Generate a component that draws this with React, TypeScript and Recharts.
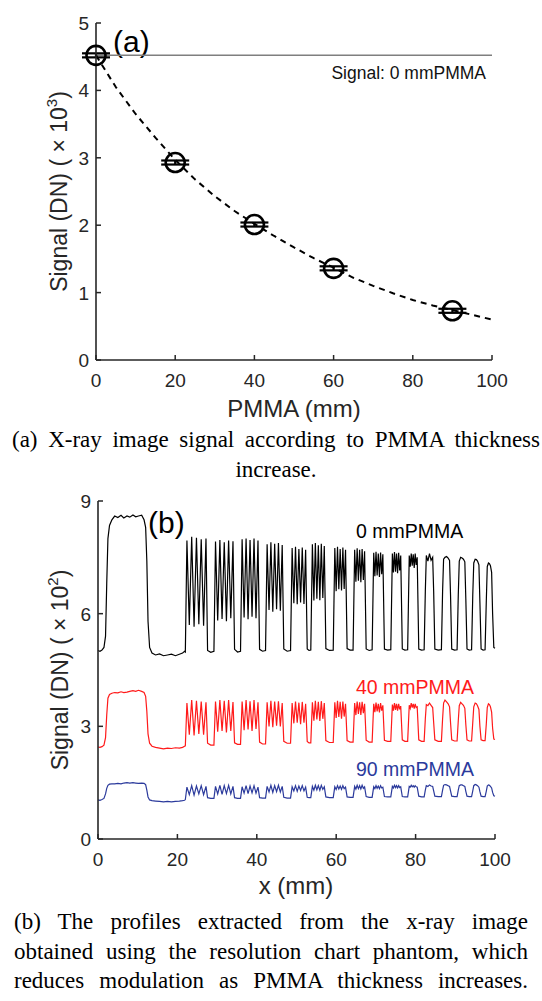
import React from 'react';
import { ComposedChart, LineChart, Line, XAxis, YAxis, ErrorBar, ReferenceLine } from 'recharts';

// ---------- (a) signal vs PMMA thickness ----------
const pmmaThickness = [0, 20, 40, 60, 90];
const signalMean = [4.52, 2.93, 2.01, 1.36, 0.73];
const signalError = [0.03, 0.03, 0.03, 0.03, 0.03];
const fitThickness = [0, 5, 10, 15, 20, 25, 30, 35, 40, 45, 50, 55, 60, 65, 70, 75, 80, 85, 90, 95, 100];
const fitSignal = [4.52, 4.05, 3.65, 3.3, 2.97, 2.68, 2.43, 2.21, 2.02, 1.84, 1.67, 1.51, 1.37, 1.22, 1.1, 0.99, 0.89, 0.81, 0.74, 0.67, 0.6];
const zeroPmmaSignal = 4.52;
const topXTicks = [0, 20, 40, 60, 80, 100];
const topYTicks = [0, 1, 2, 3, 4, 5];

// ---------- (b) line profiles ----------
const profileX = [
  0, 0.5, 1, 1.5, 1.9, 2.2, 2.5, 2.9, 3.5, 4.2, 5, 5.8, 6.5, 7.3, 8, 8.8, 9.5, 10.2, 11, 11.6, 12, 12.3, 12.6, 13, 13.6, 14.5, 15.5, 16.5, 17.5, 18.5, 19.5, 20.5, 21.3, 21.8,
  22, 22.4, 23, 23.6, 24.2, 24.8, 25.4, 26, 26.6, 27.2, 27.6, 28.4,
  29.2, 29.6, 30.15, 30.7, 31.25, 31.8, 32.35, 32.9, 33.45, 34, 34.4, 35.15,
  35.9, 36.3, 36.8, 37.3, 37.8, 38.3, 38.8, 39.3, 39.8, 40.3, 40.7, 41.45,
  42.2, 42.6, 43.08, 43.55, 44.03, 44.5, 44.98, 45.45, 45.93, 46.4, 46.8, 47.65,
  48.5, 48.9, 49.33, 49.75, 50.18, 50.6, 51.03, 51.45, 51.88, 52.3, 52.7, 53.15,
  53.6, 54, 54.38, 54.75, 55.13, 55.5, 55.88, 56.25, 56.63, 57, 57.4, 58.3,
  59.25, 59.65, 59.99, 60.33, 60.66, 61, 61.34, 61.68, 62.01, 62.35, 62.75, 63.5,
  64.25, 64.65, 64.96, 65.28, 65.59, 65.9, 66.21, 66.53, 66.84, 67.15, 67.55, 68.3,
  69.05, 69.45, 69.74, 70.03, 70.31, 70.6, 70.89, 71.18, 71.46, 71.75, 72.15, 72.95,
  73.75, 74.15, 74.41, 74.68, 74.94, 75.2, 75.46, 75.73, 75.99, 76.25, 76.65, 77.3,
  78, 78.4, 78.65, 78.9, 79.15, 79.4, 79.65, 79.9, 80.15, 80.4, 80.8, 81.5,
  82.15, 82.45, 82.7, 83.1, 83.5, 83.9, 84.3, 84.55, 84.85, 85.7,
  86.5, 86.8, 87.05, 87.4, 87.8, 88.2, 88.55, 88.8, 89.1, 89.8,
  90.45, 90.75, 91, 91.35, 91.7, 92.05, 92.4, 92.65, 92.95, 93.5,
  94.1, 94.4, 94.65, 95, 95.3, 95.6, 95.95, 96.2, 96.5, 97,
  97.5, 97.8, 98.05, 98.35, 98.6, 98.85, 99.15, 99.4, 99.7, 100,
];

const signal0mm = [
  5.02, 5.0, 5.03, 5.1, 5.4, 6.8, 8.0, 8.35, 8.5, 8.6, 8.56, 8.62, 8.55, 8.6, 8.57, 8.63, 8.58, 8.6, 8.62, 8.5, 8.3, 7.4, 5.8, 5.1, 4.95, 4.9, 4.93, 4.88, 4.9, 4.92, 4.88, 4.92, 4.95, 5.0,
  4.98, 7.95, 5.7, 8.05, 5.65, 8.02, 5.72, 7.98, 5.68, 8.0, 5.02, 4.97,
  5.0, 7.92, 5.82, 7.96, 5.86, 7.9, 5.8, 7.95, 5.88, 7.93, 5.05, 4.98,
  5.0, 7.98, 5.9, 8.0, 5.85, 7.96, 5.92, 8.0, 5.88, 7.95, 5.05, 5.0,
  5.02, 7.85, 6.1, 7.9, 6.05, 7.86, 6.12, 7.88, 6.08, 7.83, 5.06, 5.0,
  5.02, 7.75, 6.28, 7.78, 6.25, 7.72, 6.3, 7.76, 6.26, 7.7, 5.06, 5.02,
  5.03, 7.85, 6.35, 7.88, 6.4, 7.82, 6.36, 7.86, 6.42, 7.8, 5.07, 5.02,
  5.03, 7.75, 6.6, 7.78, 6.65, 7.72, 6.62, 7.76, 6.66, 7.7, 5.07, 5.03,
  5.03, 7.7, 6.85, 7.74, 6.88, 7.7, 6.84, 7.72, 6.9, 7.66, 5.06, 5.02,
  5.04, 7.62, 7.0, 7.65, 7.02, 7.6, 6.98, 7.63, 7.05, 7.58, 5.06, 5.03,
  5.04, 7.6, 7.1, 7.64, 7.12, 7.6, 7.08, 7.62, 7.15, 7.55, 5.06, 5.03,
  5.04, 7.55, 7.25, 7.6, 7.28, 7.58, 7.22, 7.6, 7.3, 7.5, 5.06, 5.03,
  5.04, 6.6, 7.55, 7.4, 7.6, 7.42, 7.5, 6.6, 5.06, 5.03,
  5.04, 6.6, 7.45, 7.5, 7.52, 7.48, 7.42, 6.5, 5.06, 5.03,
  5.04, 6.5, 7.4, 7.5, 7.48, 7.45, 7.38, 6.4, 5.06, 5.03,
  5.04, 6.5, 7.35, 7.45, 7.44, 7.4, 7.3, 6.3, 5.06, 5.03,
  5.04, 6.3, 7.25, 7.35, 7.33, 7.28, 7.1, 6.0, 5.1, 5.08,
];

const signal40mm = [
  2.45, 2.44, 2.46, 2.5, 2.7, 3.3, 3.75, 3.85, 3.88, 3.9, 3.89, 3.92, 3.9, 3.91, 3.93, 3.95, 3.93, 3.96, 3.93, 3.9, 3.8, 3.4, 2.8, 2.55, 2.47, 2.44, 2.42, 2.4, 2.42, 2.41, 2.43, 2.42, 2.44, 2.47,
  2.48, 3.62, 2.78, 3.7, 2.76, 3.68, 2.8, 3.66, 2.78, 3.64, 2.55, 2.5,
  2.5, 3.66, 2.86, 3.7, 2.88, 3.68, 2.84, 3.7, 2.88, 3.65, 2.56, 2.52,
  2.52, 3.66, 2.9, 3.7, 2.92, 3.67, 2.88, 3.7, 2.93, 3.64, 2.58, 2.53,
  2.53, 3.64, 3.0, 3.68, 2.98, 3.66, 3.02, 3.67, 3.0, 3.62, 2.6, 2.55,
  2.55, 3.62, 3.08, 3.66, 3.1, 3.63, 3.06, 3.65, 3.1, 3.6, 2.6, 2.56,
  2.56, 3.64, 3.15, 3.68, 3.18, 3.65, 3.14, 3.67, 3.2, 3.62, 2.62, 2.57,
  2.57, 3.64, 3.22, 3.68, 3.25, 3.65, 3.2, 3.66, 3.26, 3.6, 2.62, 2.58,
  2.58, 3.62, 3.3, 3.66, 3.33, 3.64, 3.3, 3.65, 3.35, 3.6, 2.63, 2.58,
  2.58, 3.6, 3.38, 3.63, 3.4, 3.6, 3.37, 3.62, 3.42, 3.56, 2.63, 2.6,
  2.6, 3.58, 3.42, 3.62, 3.44, 3.6, 3.42, 3.6, 3.45, 3.54, 2.64, 2.6,
  2.6, 3.56, 3.48, 3.62, 3.5, 3.6, 3.47, 3.6, 3.5, 3.52, 2.64, 2.6,
  2.6, 3.2, 3.58, 3.55, 3.62, 3.56, 3.5, 3.1, 2.64, 2.6,
  2.6, 3.2, 3.62, 3.7, 3.65, 3.6, 3.52, 3.1, 2.64, 2.61,
  2.61, 3.15, 3.55, 3.64, 3.6, 3.56, 3.48, 3.05, 2.64, 2.61,
  2.61, 3.1, 3.52, 3.62, 3.6, 3.55, 3.45, 3.0, 2.64, 2.62,
  2.62, 3.05, 3.5, 3.6, 3.58, 3.52, 3.38, 2.95, 2.66, 2.65,
];

const signal90mm = [
  1.04, 1.03, 1.05, 1.08, 1.2, 1.35, 1.43, 1.46, 1.47, 1.47, 1.48, 1.47, 1.49, 1.5, 1.49, 1.5, 1.49, 1.48, 1.49, 1.48, 1.45, 1.3, 1.12, 1.04, 1.02, 1.01, 1.0, 0.99, 1.0, 0.99, 1.0, 1.01, 1.02, 1.03,
  1.05, 1.38, 1.18, 1.42, 1.17, 1.41, 1.2, 1.42, 1.18, 1.4, 1.1, 1.08,
  1.08, 1.4, 1.2, 1.43, 1.19, 1.42, 1.21, 1.43, 1.2, 1.4, 1.1, 1.08,
  1.08, 1.39, 1.22, 1.42, 1.21, 1.41, 1.23, 1.42, 1.22, 1.38, 1.1, 1.09,
  1.09, 1.4, 1.25, 1.43, 1.24, 1.42, 1.26, 1.43, 1.25, 1.4, 1.11, 1.09,
  1.09, 1.39, 1.28, 1.42, 1.27, 1.41, 1.29, 1.42, 1.28, 1.38, 1.11, 1.1,
  1.1, 1.4, 1.3, 1.43, 1.31, 1.42, 1.3, 1.43, 1.32, 1.39, 1.12, 1.1,
  1.1, 1.39, 1.32, 1.42, 1.33, 1.41, 1.32, 1.42, 1.34, 1.38, 1.12, 1.11,
  1.11, 1.4, 1.33, 1.43, 1.34, 1.42, 1.33, 1.43, 1.35, 1.39, 1.13, 1.11,
  1.11, 1.39, 1.34, 1.42, 1.35, 1.41, 1.34, 1.42, 1.36, 1.38, 1.13, 1.12,
  1.12, 1.4, 1.36, 1.43, 1.37, 1.42, 1.36, 1.42, 1.37, 1.39, 1.13, 1.12,
  1.12, 1.4, 1.38, 1.43, 1.39, 1.42, 1.38, 1.42, 1.39, 1.38, 1.14, 1.12,
  1.12, 1.3, 1.42, 1.4, 1.44, 1.41, 1.4, 1.28, 1.14, 1.13,
  1.13, 1.3, 1.43, 1.45, 1.44, 1.42, 1.4, 1.28, 1.14, 1.13,
  1.13, 1.3, 1.42, 1.44, 1.44, 1.42, 1.4, 1.27, 1.14, 1.13,
  1.13, 1.28, 1.42, 1.45, 1.44, 1.42, 1.38, 1.26, 1.14, 1.13,
  1.13, 1.27, 1.41, 1.44, 1.43, 1.4, 1.36, 1.24, 1.15, 1.14,
];
const bottomXTicks = [0, 20, 40, 60, 80, 100];
const bottomYTicks = [0, 3, 6, 9];

// ---------- tables built from the arrays ----------
const pointData = pmmaThickness.map((x, i) => ({ x, y: signalMean[i], err: signalError[i] }));
const fitData = fitThickness.map((x, i) => ({ x, y: fitSignal[i] }));
const profileData = profileX.map((x, i) => ({ x, s0: signal0mm[i], s40: signal40mm[i], s90: signal90mm[i] }));

const AXIS = '#262626';
const SANS = '"Liberation Sans", Arial, Helvetica, sans-serif';
const SERIF = '"Liberation Serif", "Times New Roman", Times, serif';

const XTick = (props: any) => {
  const { x, y, payload } = props;
  return (
    <g>
      <line x1={x} x2={x} y1={y} y2={y - 5} stroke={AXIS} strokeWidth={1.5} />
      <text x={x} y={y + 27} textAnchor="middle" fontSize={19} fontFamily={SANS} fill={AXIS}>
        {payload.value}
      </text>
    </g>
  );
};

const YTick = (props: any) => {
  const { x, y, payload } = props;
  return (
    <g>
      <line x1={x} x2={x + 5} y1={y} y2={y} stroke={AXIS} strokeWidth={1.5} />
      <text x={x - 7} y={y + 7} textAnchor="end" fontSize={19} fontFamily={SANS} fill={AXIS}>
        {payload.value}
      </text>
    </g>
  );
};

const CircleDot = (props: any) => {
  const { cx, cy, index } = props;
  return <circle key={`c${index}`} cx={cx} cy={cy} r={9.5} fill="none" stroke="#000" strokeWidth={2.6} />;
};

const axisLineStyle = { stroke: AXIS, strokeWidth: 1.6 };

const captionLine = (align: 'justify' | 'center', top: number, left: number, width: number, text: string) => (
  <div
    style={{
      position: 'absolute', left, top, width, fontFamily: SERIF, fontSize: 23, lineHeight: '30px',
      textAlign: align, textAlignLast: align, color: '#000', whiteSpace: 'nowrap',
    }}
  >
    {text}
  </div>
);

export default function App() {
  return (
    <div style={{ position: 'absolute', left: 0, top: 0, width: 542, height: 1001, background: '#fff', overflow: 'hidden' }}>
      <div style={{ position: 'absolute', left: 0, top: 0 }}>
        <ComposedChart width={542} height={430} margin={{ top: 23, right: 50, bottom: 0, left: 0 }}>
          <XAxis
            type="number"
            dataKey="x"
            domain={[0, 100]}
            ticks={topXTicks}
            interval={0}
            tickSize={0}
            tickMargin={0}
            tickLine={false}
            axisLine={axisLineStyle}
            tick={<XTick />}
            height={70}
          />
          <YAxis
            type="number"
            domain={[0, 5]}
            ticks={topYTicks}
            interval={0}
            tickSize={0}
            tickMargin={0}
            tickLine={false}
            axisLine={axisLineStyle}
            tick={<YTick />}
            width={96}
          />
          <ReferenceLine y={zeroPmmaSignal} stroke="#7f7f7f" strokeWidth={1.5} />
          <Line
            data={fitData}
            dataKey="y"
            type="linear"
            stroke="#000"
            strokeWidth={2}
            strokeDasharray="6 5"
            dot={false}
            activeDot={false}
            isAnimationActive={false}
          />
          <Line
            data={pointData}
            dataKey="y"
            type="linear"
            stroke="none"
            dot={<CircleDot />}
            activeDot={false}
            isAnimationActive={false}
          >
            <ErrorBar dataKey="err" direction="y" width={14} stroke="#000" strokeWidth={2.2} />
          </Line>
          <text x={113} y={52} fontSize={30} fontFamily={SANS} fill="#000">(a)</text>
          <text x={486} y={79} textAnchor="end" fontSize={17.5} fontFamily={SANS} fill="#111">Signal: 0 mmPMMA</text>
          <text x={294} y={417} textAnchor="middle" fontSize={24} fontFamily={SANS} fill={AXIS}>PMMA (mm)</text>
          <text transform="translate(67,191.5) rotate(-90)" textAnchor="middle" fontSize={23} fontFamily={SANS} fill={AXIS}>
            Signal (DN) ( × 10<tspan dy={-10} fontSize={15}>3</tspan><tspan dy={10}>)</tspan>
          </text>
        </ComposedChart>
      </div>

      {captionLine('justify', 425, 12, 528, '(a) X-ray image signal according to PMMA thickness')}
      {captionLine('center', 455, 12, 528, 'increase.')}

      <div style={{ position: 'absolute', left: 0, top: 480 }}>
        <LineChart width={542} height={420} data={profileData} margin={{ top: 21, right: 47, bottom: 0, left: 0 }}>
          <XAxis
            type="number"
            dataKey="x"
            domain={[0, 100]}
            ticks={bottomXTicks}
            interval={0}
            tickSize={0}
            tickMargin={0}
            tickLine={false}
            axisLine={axisLineStyle}
            tick={<XTick />}
            height={61}
          />
          <YAxis
            type="number"
            domain={[0, 9]}
            ticks={bottomYTicks}
            interval={0}
            tickSize={0}
            tickMargin={0}
            tickLine={false}
            axisLine={axisLineStyle}
            tick={<YTick />}
            width={98}
          />
          <Line dataKey="s0" type="linear" stroke="#000" strokeWidth={1.2} dot={false} activeDot={false} isAnimationActive={false} />
          <Line dataKey="s40" type="linear" stroke="#ff1a1a" strokeWidth={1.2} dot={false} activeDot={false} isAnimationActive={false} />
          <Line dataKey="s90" type="linear" stroke="#2b3a9c" strokeWidth={1.2} dot={false} activeDot={false} isAnimationActive={false} />
          <text x={148} y={53} fontSize={30} fontFamily={SANS} fill="#000">(b)</text>
          <text x={356} y={58} fontSize={19.5} fontFamily={SANS} fill="#000">0 mmPMMA</text>
          <text x={356} y={214} fontSize={19.5} fontFamily={SANS} fill="#ff1a1a">40 mmPMMA</text>
          <text x={356} y={296} fontSize={19.5} fontFamily={SANS} fill="#2b3a9c">90 mmPMMA</text>
          <text x={296} y={414} textAnchor="middle" fontSize={24} fontFamily={SANS} fill={AXIS}>x (mm)</text>
          <text transform="translate(68,190) rotate(-90)" textAnchor="middle" fontSize={23} fontFamily={SANS} fill={AXIS}>
            Signal (DN) ( × 10<tspan dy={-10} fontSize={15}>2</tspan><tspan dy={10}>)</tspan>
          </text>
        </LineChart>
      </div>

      {captionLine('justify', 907, 14, 514, '(b) The profiles extracted from the x-ray image')}
      {captionLine('justify', 936.5, 14, 514, 'obtained using the resolution chart phantom, which')}
      {captionLine('justify', 966, 14, 514, 'reduces modulation as PMMA thickness increases.')}
    </div>
  );
}
